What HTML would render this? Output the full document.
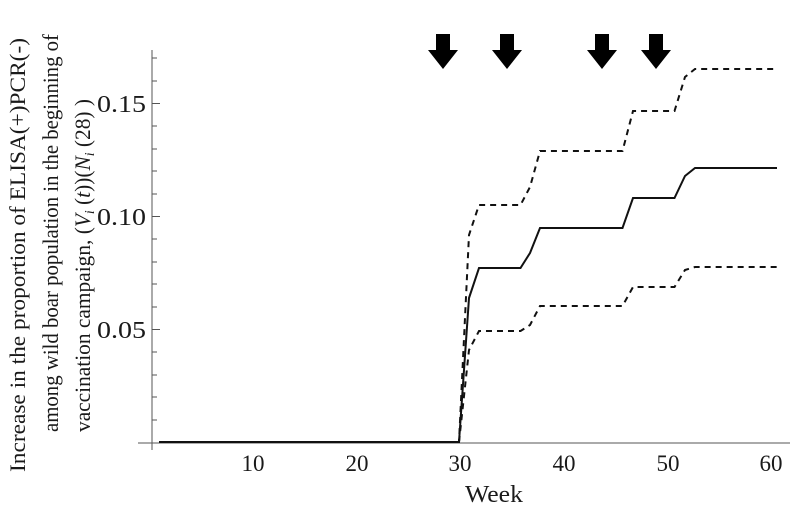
<!DOCTYPE html>
<html><head><meta charset="utf-8"><style>
html,body{margin:0;padding:0;background:#fff}
svg{display:block}
text{font-family:"Liberation Serif",serif;fill:#1a1a1a}
</style></head><body>
<svg width="800" height="508" viewBox="0 0 800 508" xmlns="http://www.w3.org/2000/svg">
<line x1="152" y1="50" x2="152" y2="450" stroke="#555" stroke-width="1"/>
<line x1="138" y1="443" x2="790" y2="443" stroke="#555" stroke-width="1"/>
<g stroke="#555" stroke-width="1">
<line x1="152" y1="420" x2="157" y2="420"/><line x1="152" y1="397" x2="157" y2="397"/><line x1="152" y1="375" x2="157" y2="375"/><line x1="152" y1="352" x2="157" y2="352"/>
<line x1="152" y1="329.5" x2="160" y2="329.5"/>
<line x1="152" y1="307" x2="157" y2="307"/><line x1="152" y1="284" x2="157" y2="284"/><line x1="152" y1="262" x2="157" y2="262"/><line x1="152" y1="239" x2="157" y2="239"/>
<line x1="152" y1="216.5" x2="160" y2="216.5"/>
<line x1="152" y1="194" x2="157" y2="194"/><line x1="152" y1="171" x2="157" y2="171"/><line x1="152" y1="149" x2="157" y2="149"/><line x1="152" y1="126" x2="157" y2="126"/>
<line x1="152" y1="103.5" x2="160" y2="103.5"/>
<line x1="152" y1="81" x2="157" y2="81"/><line x1="152" y1="58" x2="157" y2="58"/>
</g>
<g stroke="#555" stroke-width="1" id="xt"></g>
<script>
var g=document.getElementById('xt'),s='';
for(var w=2;w<=62;w+=2){var x=148.5+w*10.37;var h=(w%10==0)?7:4;s+='<line x1="'+x+'" y1="443" x2="'+x+'" y2="'+(443-h)+'"/>';}
g.innerHTML=s;
</script>
<g font-size="24" text-anchor="end">
<text x="146" y="338" textLength="49" lengthAdjust="spacingAndGlyphs">0.05</text>
<text x="146" y="225" textLength="49" lengthAdjust="spacingAndGlyphs">0.10</text>
<text x="146" y="112" textLength="49" lengthAdjust="spacingAndGlyphs">0.15</text>
</g>
<g font-size="23" text-anchor="middle">
<text x="253" y="471">10</text>
<text x="357" y="471">20</text>
<text x="460" y="471">30</text>
<text x="564" y="471">40</text>
<text x="668" y="471">50</text>
<text x="771" y="471">60</text>
</g>
<text x="465" y="502" font-size="24" textLength="58" lengthAdjust="spacingAndGlyphs">Week</text>
<g font-size="22">
<text transform="translate(25,472) rotate(-90)" textLength="434" lengthAdjust="spacingAndGlyphs">Increase in the proportion of ELISA(+)PCR(-)</text>
<text transform="translate(58,432) rotate(-90)" textLength="398" lengthAdjust="spacingAndGlyphs">among wild boar population in the beginning of</text>
<text transform="translate(90,432) rotate(-90)" textLength="333" lengthAdjust="spacingAndGlyphs">vaccination campaign, (<tspan font-style="italic">V</tspan><tspan font-size="14" dy="4" font-style="italic">i</tspan><tspan dy="-4"> (</tspan><tspan font-style="italic">t</tspan>))(<tspan font-style="italic">N</tspan><tspan font-size="14" dy="4" font-style="italic">i</tspan><tspan dy="-4"> (28) )</tspan></text>
</g>
<g fill="none" stroke="#111" stroke-width="2">
<polyline points="159,442 459,442 469,298 479,268 520.5,268 530,253 540,228 622.5,228 633,198 674.5,198 685,176 695,168 777,168"/>
<polyline stroke-dasharray="6,5" points="159,442 459,442 469,235 479,205 520.5,205 530,187 540,151 622.5,151 633,111 674.5,111 685,77 695,69 777,69"/>
<polyline stroke-dasharray="6,5" points="459,442 469,350 479,331 520.5,331 530,325 540,306 622.5,306 633,287 674.5,287 685,270 695,267 777,267"/>
</g>
<g fill="#000">
<polygon points="436,34 450,34 450,50 458,50 443,69 428,50 436,50"/>
<polygon points="500,34 514,34 514,50 522,50 507,69 492,50 500,50"/>
<polygon points="595,34 609,34 609,50 617,50 602,69 587,50 595,50"/>
<polygon points="649,34 663,34 663,50 671,50 656,69 641,50 649,50"/>
</g>
</svg>
</body></html>
